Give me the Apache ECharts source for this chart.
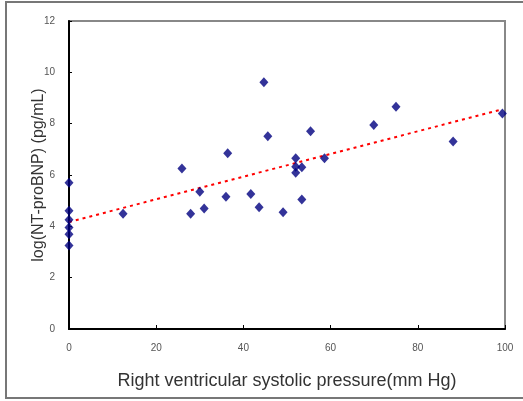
<!DOCTYPE html>
<html>
<head>
<meta charset="utf-8">
<script src="https://cdn.jsdelivr.net/npm/echarts@6/dist/echarts.min.js"></script>
<style>
html,body{margin:0;padding:0;background:#fff;}
#chart{width:523px;height:401px;}
</style>
</head>
<body>
<div id="chart"></div>
<script>
const rvsp = [0,0,0,0,0,0,12.4,25.9,27.9,30.0,31.0,36.0,36.4,41.7,43.6,44.7,45.6,49.1,52.0,52.0,52.0,53.4,53.4,55.4,58.6,69.9,75.0,88.1,99.4];
const logBNP = [5.70,4.61,4.26,3.95,3.69,3.25,4.49,6.25,4.49,5.35,4.69,5.15,6.85,5.26,4.74,9.61,7.51,4.55,6.65,6.32,6.09,6.30,5.05,7.70,6.65,7.95,8.66,7.31,8.40];
const trendX = [0, 99.4];
const trendY = [4.17, 8.56];
const xTicks = [0,20,40,60,80,100];
const yTicks = [0,2,4,6,8,10,12];
const xTitle = 'Right ventricular systolic pressure(mm Hg)';
const yTitle = 'log(NT-proBNP) (pg/mL)';

const points = rvsp.map((x,i)=>[x, logBNP[i]]);
const trend = trendX.map((x,i)=>[x, trendY[i]]);

const chart = echarts.init(document.getElementById('chart'));
chart.setOption({
  animation:false,
  backgroundColor:'#fff',
  graphic:[{type:'rect', shape:{x:6,y:2,width:530,height:396}, style:{fill:'none', stroke:'#777', lineWidth:2}, z:-10}],
  grid:{left:69,right:18,top:21,bottom:72,show:true,borderColor:'#888',borderWidth:2,backgroundColor:'transparent'},
  xAxis:{type:'value',min:0,max:100,interval:20,
    name:xTitle,nameLocation:'middle',nameGap:43,nameMoveOverlap:false,
    nameTextStyle:{fontFamily:'Liberation Sans',fontSize:18,color:'#333'},
    axisLine:{lineStyle:{color:'#000',width:2}},
    axisTick:{inside:true,length:4,lineStyle:{color:'#000'}},
    axisLabel:{margin:14,fontFamily:'Liberation Sans',fontSize:10,color:'#555'},
    splitLine:{show:false}},
  yAxis:{type:'value',min:0,max:12,interval:2,
    name:yTitle,nameLocation:'middle',nameGap:22,nameMoveOverlap:false,
    nameTextStyle:{fontFamily:'Liberation Sans',fontSize:16,color:'#333'},
    axisLine:{lineStyle:{color:'#000',width:2}},
    axisTick:{inside:true,length:3,lineStyle:{color:'#000'}},
    axisLabel:{margin:14,fontFamily:'Liberation Sans',fontSize:10,color:'#555'},
    splitLine:{show:false}},
  series:[
    {type:'line',data:trend,symbol:'none',silent:true,
      lineStyle:{color:'#ff0000',width:2,type:[3,4]},z:1},
    {type:'scatter',data:points,symbol:'diamond',symbolSize:[9,10],clip:false,
      itemStyle:{color:'#000080'},z:3}
  ]
});
</script>
</body>
</html>
